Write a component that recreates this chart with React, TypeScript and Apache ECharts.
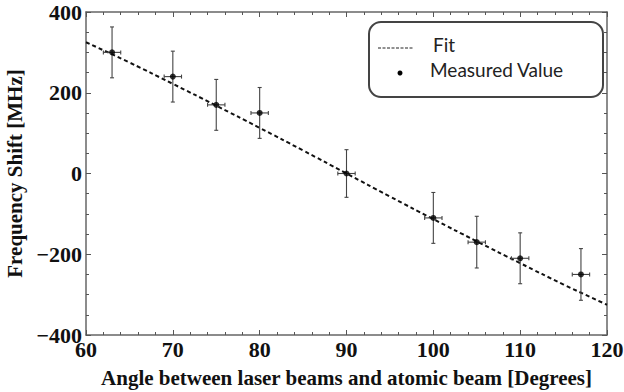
import React, { useEffect, useRef } from "react";
import * as echarts from "echarts";

const angles = [63, 70, 75, 80, 90, 100, 105, 110, 117];
const shifts = [300, 240, 170, 150, 0, -110, -170, -210, -250];
const shiftErrors = [63, 63, 63, 63, 59, 63, 64, 63, 64];
const angleErrors = [1, 1, 1, 1, 1, 1, 1, 1, 1];

const fitAngles = [60, 65, 70, 75, 80, 85, 90, 95, 100, 105, 110, 115, 120];
const fitShifts = [325, 275, 222, 168, 113, 57, 0, -57, -113, -168, -222, -275, -325];

const xTicks = [60, 70, 80, 90, 100, 110, 120];
const yTicks = [-400, -200, 0, 200, 400];

const serif = "'Liberation Serif', 'DejaVu Serif', serif";
const sans = "Lato, 'Open Sans', sans-serif";

export default function App() {
  const ref = useRef<HTMLDivElement>(null);
  useEffect(() => {
    if (!ref.current) return;
    const chart = echarts.init(ref.current, null, { renderer: "svg" });
    const axisLine = { show: true, onZero: false, lineStyle: { color: "#666", width: 1.5 } };
    const tickStyle = { color: "#555", width: 1 };
    const fmt = (v: number) => (v < 0 ? "\u2212" + Math.abs(v) : String(v));
    const measured = angles.map((a, i) => [a, shifts[i], shiftErrors[i], angleErrors[i]]);
    const fit = fitAngles.map((a, i) => [a, fitShifts[i]]);
    const labelStyle = { color: "#111", fontFamily: serif, fontWeight: "bold", fontSize: 22 };
    chart.setOption({
      animation: false,
      backgroundColor: "#fff",
      grid: { left: 86, right: 17, top: 12, bottom: 57, containLabel: false, outerBoundsMode: "none" },
      xAxis: [
        {
          type: "value",
          min: xTicks[0],
          max: xTicks[xTicks.length - 1],
          interval: 10,
          axisLine,
          axisTick: { show: true, inside: true, length: 5, lineStyle: tickStyle },
          minorTick: { show: true, splitNumber: 5, length: 3, lineStyle: tickStyle },
          splitLine: { show: false },
          axisLabel: { ...labelStyle, margin: 3, formatter: fmt, hideOverlap: false },
          name: "Angle between laser beams and atomic beam [Degrees]",
          nameLocation: "middle",
          nameGap: 32,
          nameTextStyle: { color: "#111", fontFamily: serif, fontWeight: "bold", fontSize: 21 },
        },
        {
          type: "value",
          position: "top",
          min: xTicks[0],
          max: xTicks[xTicks.length - 1],
          interval: 10,
          axisLine,
          axisTick: { show: true, inside: true, length: 5, lineStyle: tickStyle },
          minorTick: { show: true, splitNumber: 5, length: 3, lineStyle: tickStyle },
          splitLine: { show: false },
          axisLabel: { show: false },
        },
      ],
      yAxis: [
        {
          type: "value",
          min: yTicks[0],
          max: yTicks[yTicks.length - 1],
          interval: 200,
          axisLine,
          axisTick: { show: true, inside: true, length: 5, lineStyle: tickStyle },
          minorTick: { show: true, splitNumber: 4, length: 3, lineStyle: tickStyle },
          splitLine: { show: false },
          axisLabel: { ...labelStyle, margin: 4, formatter: fmt },
          name: "Frequency Shift [MHz]",
          nameLocation: "middle",
          nameGap: 58,
          nameTextStyle: { color: "#111", fontFamily: serif, fontWeight: "bold", fontSize: 21 },
        },
        {
          type: "value",
          position: "right",
          min: yTicks[0],
          max: yTicks[yTicks.length - 1],
          interval: 200,
          axisLine,
          axisTick: { show: true, inside: true, length: 5, lineStyle: tickStyle },
          minorTick: { show: true, splitNumber: 4, length: 3, lineStyle: tickStyle },
          splitLine: { show: false },
          axisLabel: { show: false },
        },
      ],
      series: [
        {
          type: "line",
          name: "Fit",
          data: fit,
          smooth: true,
          showSymbol: false,
          symbol: "none",
          lineStyle: { color: "#111", width: 2, type: [4, 3] },
          z: 3,
        },
        {
          type: "custom",
          name: "errors",
          data: measured,
          renderItem: (params: any, api: any) => {
            const x = api.value(0);
            const y = api.value(1);
            const ey = api.value(2);
            const ex = api.value(3);
            const top = api.coord([x, y + ey]);
            const bot = api.coord([x, y - ey]);
            const left = api.coord([x - ex, y]);
            const right = api.coord([x + ex, y]);
            const style = { stroke: "#444", lineWidth: 1.1 };
            const cap = 2;
            return {
              type: "group",
              children: [
                { type: "line", shape: { x1: top[0], y1: top[1], x2: bot[0], y2: bot[1] }, style },
                { type: "line", shape: { x1: top[0] - cap, y1: top[1], x2: top[0] + cap, y2: top[1] }, style },
                { type: "line", shape: { x1: bot[0] - cap, y1: bot[1], x2: bot[0] + cap, y2: bot[1] }, style },
                { type: "line", shape: { x1: left[0], y1: left[1], x2: right[0], y2: right[1] }, style },
                { type: "line", shape: { x1: left[0], y1: left[1] - cap, x2: left[0], y2: left[1] + cap }, style },
                { type: "line", shape: { x1: right[0], y1: right[1] - cap, x2: right[0], y2: right[1] + cap }, style },
              ],
            };
          },
          z: 4,
        },
        {
          type: "scatter",
          name: "Measured Value",
          data: measured.map((d) => [d[0], d[1]]),
          symbol: "circle",
          symbolSize: 6,
          itemStyle: { color: "#000" },
          z: 5,
        },
      ],
      graphic: [
        {
          type: "rect",
          left: 368,
          top: 21,
          shape: { width: 234, height: 75, r: 12 },
          style: { fill: "#fff", stroke: "#444", lineWidth: 2 },
          z: 10,
        },
        {
          type: "line",
          shape: { x1: 378, y1: 48, x2: 414, y2: 48 },
          style: { stroke: "#222", lineWidth: 1, lineDash: [3, 1.5] },
          z: 11,
        },
        {
          type: "circle",
          shape: { cx: 400, cy: 73, r: 2.5 },
          style: { fill: "#000" },
          z: 11,
        },
        {
          type: "text",
          left: 433,
          top: 35,
          style: { text: "Fit", fill: "#222", font: `19px ${sans}` },
          z: 11,
        },
        {
          type: "text",
          left: 430,
          top: 60,
          style: { text: "Measured Value", fill: "#222", font: `19px ${sans}` },
          z: 11,
        },
      ],
    });
    return () => chart.dispose();
  }, []);
  return <div ref={ref} style={{ width: 624, height: 392, position: "absolute", left: 0, top: 0 }} />;
}
